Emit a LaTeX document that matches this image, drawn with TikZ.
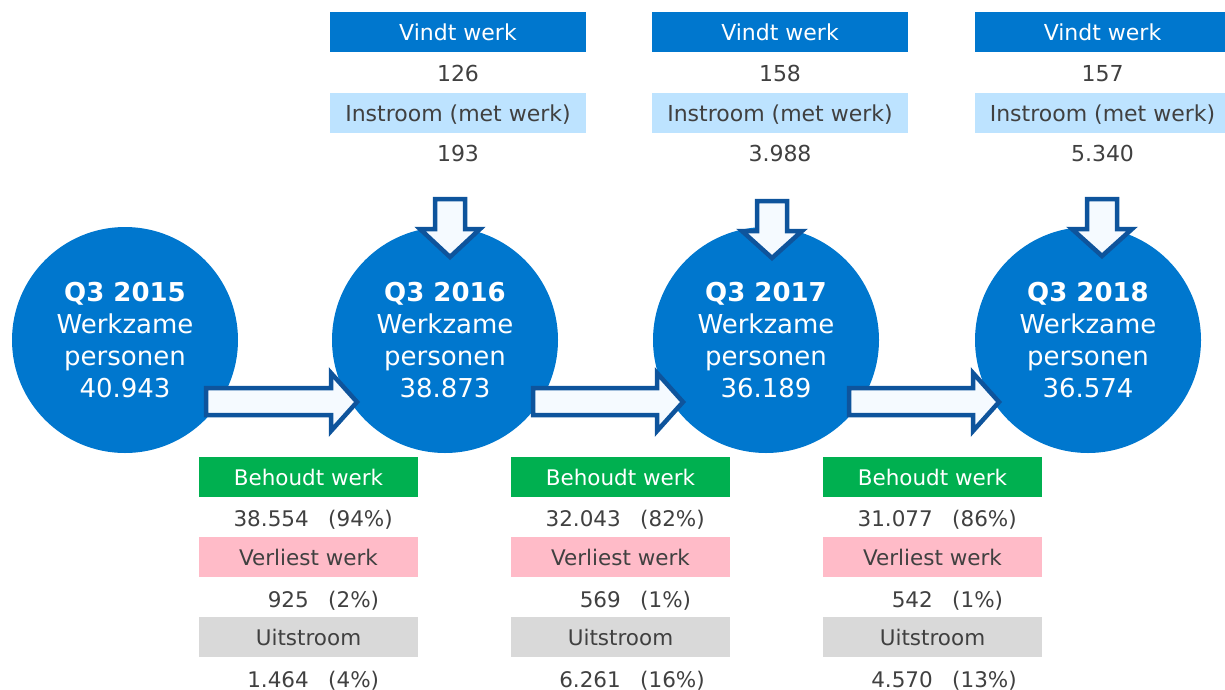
\documentclass[tikz,border=0pt]{standalone}
\usepackage{fontspec}
\setmainfont{DejaVu Sans}
\usepackage{tikz}

\definecolor{circblue}{RGB}{0,119,206}
\definecolor{arrowblue}{RGB}{14,84,156}
\definecolor{arrowfill}{RGB}{245,250,255}
\definecolor{lightblue}{RGB}{189,227,255}
\definecolor{keepgreen}{RGB}{0,176,80}
\definecolor{losepink}{RGB}{255,187,200}
\definecolor{outgrey}{RGB}{217,217,217}
\definecolor{textgrey}{RGB}{64,64,64}

\begin{document}
\begin{tikzpicture}[x=1pt,y=-1pt,
	quarter/.style={circle,fill=circblue,text=white,minimum size=226pt,inner sep=0pt,align=center,font=\fontsize{26}{32}\selectfont},
	topbox/.style={minimum width=256pt,minimum height=40pt,inner sep=0pt,text height=17pt,text depth=0pt,font=\fontsize{22}{26}\selectfont},
	botbox/.style={minimum width=219pt,minimum height=40pt,inner sep=0pt,text height=17pt,text depth=0pt,font=\fontsize{21.5}{25}\selectfont},
	topval/.style={anchor=base,inner sep=0pt,text=textgrey,font=\fontsize{22}{26}\selectfont},
	botval/.style={inner sep=0pt,text=textgrey,font=\fontsize{21.5}{25}\selectfont},
	blockarrow/.style={draw=arrowblue,fill=arrowfill,line width=4.5pt}]
	\useasboundingbox (0,0) rectangle (1225,689);
	%\draw[help lines] (0,0) grid[step=50] (1225,689);

	% circles
	\node[quarter] (q2015) at (125,340) {\textbf{Q3 2015}\\Werkzame\\personen\\40.943};
	\node[quarter] (q2016) at (445,340) {\textbf{Q3 2016}\\Werkzame\\personen\\38.873};
	\node[quarter] (q2017) at (766,340) {\textbf{Q3 2017}\\Werkzame\\personen\\36.189};
	\node[quarter] (q2018) at (1088,340) {\textbf{Q3 2018}\\Werkzame\\personen\\36.574};

	% arrows to the right
	\draw[blockarrow] (206,388) -- (331,388) -- (331,373) -- (357,402) -- (331,431) -- (331,415) -- (206,415) -- cycle;
	\draw[blockarrow] (533,388) -- (657,388) -- (657,373) -- (683,402) -- (657,431) -- (657,415) -- (533,415) -- cycle;
	\draw[blockarrow] (849,388) -- (973,388) -- (973,373) -- (999,402) -- (973,431) -- (973,415) -- (849,415) -- cycle;

	% arrows down
	\draw[blockarrow] (435,199) -- (465,199) -- (465,229) -- (480,229) -- (450,257) -- (420,229) -- (435,229) -- cycle;
	\draw[blockarrow] (757,201) -- (787,201) -- (787,231) -- (802,231) -- (772,258) -- (742,231) -- (757,231) -- cycle;
	\draw[blockarrow] (1087,199) -- (1117,199) -- (1117,229) -- (1132,229) -- (1102,256) -- (1072,229) -- (1087,229) -- cycle;

	% instroom
	\node[topbox,fill=circblue,text=white] (vindt2016) at (458,32) {Vindt werk};
	\node[topval] (vindt2016n) at (458,81.5) {126};
	\node[topbox,fill=lightblue,text=textgrey] (in2016) at (458,112.5) {Instroom (met werk)};
	\node[topval] (in2016n) at (458,161.5) {193};

	\node[topbox,fill=circblue,text=white] (vindt2017) at (780,32) {Vindt werk};
	\node[topval] (vindt2017n) at (780,81.5) {158};
	\node[topbox,fill=lightblue,text=textgrey] (in2017) at (780,112.5) {Instroom (met werk)};
	\node[topval] (in2017n) at (780,161.5) {3.988};

	\node[topbox,fill=circblue,text=white] (vindt2018) at (1102.5,32) {Vindt werk};
	\node[topval] (vindt2018n) at (1102.5,81.5) {157};
	\node[topbox,fill=lightblue,text=textgrey] (in2018) at (1102.5,112.5) {Instroom (met werk)};
	\node[topval] (in2018n) at (1102.5,161.5) {5.340};

	% uitstroom
	\node[botbox,fill=keepgreen,text=white] (keep2016) at (308.5,477) {Behoudt werk};
	\node[botval,anchor=base east] (keep2016n) at (309,526) {38.554};
	\node[botval,anchor=base west] (keep2016p) at (328,526) {(94\%)};
	\node[botbox,fill=losepink,text=textgrey] (lose2016) at (308.5,557) {Verliest werk};
	\node[botval,anchor=base east] (lose2016n) at (309,607) {925};
	\node[botval,anchor=base west] (lose2016p) at (328,607) {(2\%)};
	\node[botbox,fill=outgrey,text=textgrey] (out2016) at (308.5,637) {Uitstroom};
	\node[botval,anchor=base east] (out2016n) at (309,687) {1.464};
	\node[botval,anchor=base west] (out2016p) at (328,687) {(4\%)};

	\node[botbox,fill=keepgreen,text=white] (keep2017) at (620.5,477) {Behoudt werk};
	\node[botval,anchor=base east] (keep2017n) at (621,526) {32.043};
	\node[botval,anchor=base west] (keep2017p) at (640,526) {(82\%)};
	\node[botbox,fill=losepink,text=textgrey] (lose2017) at (620.5,557) {Verliest werk};
	\node[botval,anchor=base east] (lose2017n) at (621,607) {569};
	\node[botval,anchor=base west] (lose2017p) at (640,607) {(1\%)};
	\node[botbox,fill=outgrey,text=textgrey] (out2017) at (620.5,637) {Uitstroom};
	\node[botval,anchor=base east] (out2017n) at (621,687) {6.261};
	\node[botval,anchor=base west] (out2017p) at (640,687) {(16\%)};

	\node[botbox,fill=keepgreen,text=white] (keep2018) at (932.5,477) {Behoudt werk};
	\node[botval,anchor=base east] (keep2018n) at (933,526) {31.077};
	\node[botval,anchor=base west] (keep2018p) at (952,526) {(86\%)};
	\node[botbox,fill=losepink,text=textgrey] (lose2018) at (932.5,557) {Verliest werk};
	\node[botval,anchor=base east] (lose2018n) at (933,607) {542};
	\node[botval,anchor=base west] (lose2018p) at (952,607) {(1\%)};
	\node[botbox,fill=outgrey,text=textgrey] (out2018) at (932.5,637) {Uitstroom};
	\node[botval,anchor=base east] (out2018n) at (933,687) {4.570};
	\node[botval,anchor=base west] (out2018p) at (952,687) {(13\%)};
\end{tikzpicture}
\end{document}
